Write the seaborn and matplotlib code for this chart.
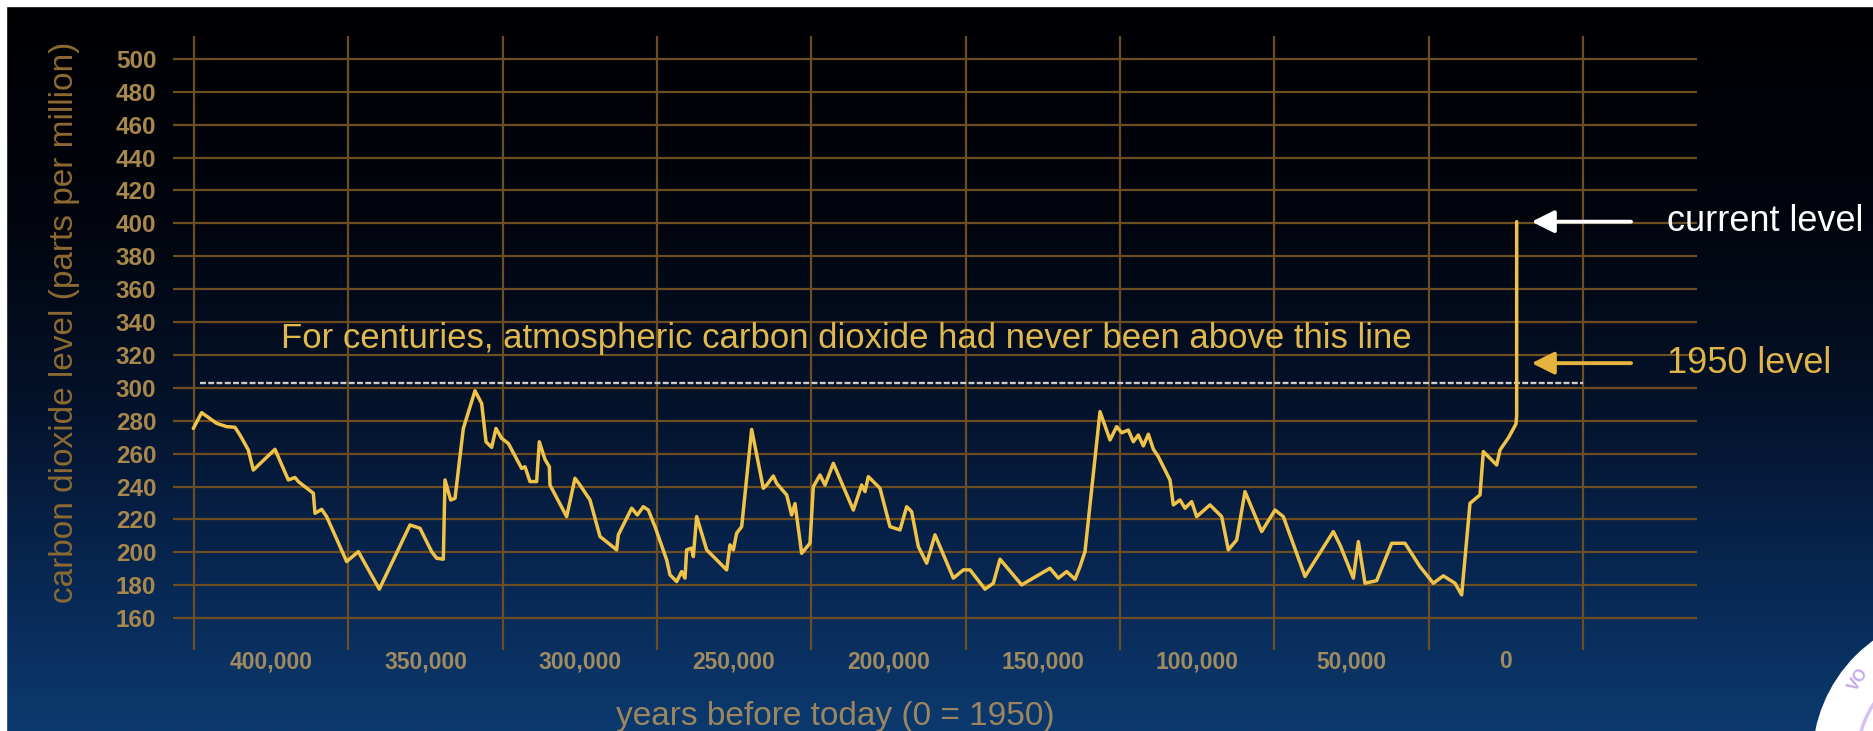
import numpy as np
import pandas as pd
import matplotlib
matplotlib.use("Agg")
import matplotlib.pyplot as plt
import seaborn as sns
from matplotlib.patches import Circle, Rectangle

# ---------------- data ----------------
years = [
    425216, 422516, 417656, 414416, 411716, 410096, 407396, 405776, 398756, 394436,
    392276, 391196, 386336, 385796, 383636, 382016, 375536, 371756, 364952, 355016,
    351776, 347996, 346376, 344216, 343676, 341840, 340436, 337736, 333956, 331796,
    330392, 328556, 327152, 325316, 323156, 318836, 317756, 316136, 313976, 313112,
    311276, 309872, 309656, 304256, 301556, 299936, 296696, 293456, 288056, 287516,
    283196, 281360, 279416, 277796, 275636, 271856, 270776, 268616, 266996, 265916,
    265376, 263756, 263216, 262136, 258896, 252416, 251336, 250256, 249176, 247556,
    244316, 240536, 239456, 237296, 236216, 232976, 231356, 230276, 228116, 225416,
    224336, 222176, 220556, 217856, 211376, 208676, 207596, 206516, 202736, 199496,
    196256, 194096, 192476, 190316, 187616, 184916, 178976, 175736, 173576, 168716,
    166016, 163856, 156836, 147656, 144956, 142256, 139556, 137936, 136316, 131456,
    128216, 126056, 124436, 122276, 120656, 119036, 117416, 115796, 114176, 112556,
    108776, 107696, 105536, 103916, 101756, 100136, 95816, 92036, 89876, 87176,
    84476, 79076, 74756, 72056, 65036, 55856, 53696, 49376, 47756, 45596,
    41816, 36956, 32636, 27776, 23456, 20216, 16436, 14276, 11576, 8336,
    7256, 2936, 1856, -1000, -3300, -3544, -3544,
]
co2_ppm = [
    275.3, 284.9, 278.4, 276.4, 276.0, 271.3, 262.2, 250.0, 262.6, 244.0,
    245.5, 243.0, 235.9, 223.7, 226.1, 221.7, 194.4, 200.4, 177.6, 216.6,
    214.6, 200.4, 196.4, 195.8, 244.0, 231.8, 232.8, 275.3, 298.2, 290.5,
    267.2, 263.8, 275.3, 269.3, 266.2, 251.0, 252.0, 243.0, 243.0, 267.2,
    256.5, 252.0, 240.9, 221.7, 245.0, 240.9, 231.8, 209.6, 201.5, 210.6,
    226.8, 222.7, 227.7, 225.7, 215.6, 195.4, 186.3, 182.2, 188.3, 184.3,
    201.5, 202.5, 197.4, 221.7, 201.5, 189.3, 204.5, 201.5, 211.6, 215.6,
    274.7, 238.9, 240.9, 246.4, 241.9, 234.9, 222.7, 229.6, 199.4, 205.5,
    239.9, 247.0, 240.9, 254.1, 225.7, 240.9, 236.9, 246.0, 238.9, 215.6,
    213.6, 227.7, 224.7, 203.5, 193.4, 210.6, 184.3, 189.3, 189.3, 177.6,
    181.2, 195.8, 180.2, 190.3, 184.3, 188.3, 183.6, 191.3, 200.4, 285.5,
    268.3, 276.4, 272.7, 274.3, 267.2, 271.3, 264.7, 271.8, 262.7, 258.1,
    244.0, 228.8, 231.8, 226.8, 230.8, 221.7, 228.8, 221.7, 201.5, 207.5,
    236.9, 212.6, 225.7, 221.7, 185.3, 212.6, 204.5, 184.3, 206.5, 181.2,
    182.8, 205.5, 205.5, 191.3, 181.2, 185.7, 181.2, 174.1, 229.8, 234.9,
    261.2, 253.1, 262.2, 270.0, 278.0, 283.0, 401.0,
]

y_ticks = list(range(160, 501, 20))
x_ticks = [400000, 350000, 300000, 250000, 200000, 150000, 100000, 50000, 0]
x_tick_labels = ["400,000", "350,000", "300,000", "250,000", "200,000",
                 "150,000", "100,000", "50,000", "0"]

never_above_level = 303      # dashed reference line
level_1950 = 315             # yellow arrow
level_current = 401          # white arrow

title_y = "carbon dioxide level (parts per million)"
title_x = "years before today (0 = 1950)"
note = "For centuries, atmospheric carbon dioxide had never been above this line"
label_current = "current level"
label_1950 = "1950 level"

# ---------------- styling ----------------
W, H = 1874, 731
sns.set_theme(style="dark")
plt.rcParams["font.family"] = ["Liberation Sans", "DejaVu Sans"]

GRID = "#6c4e22"
LINE = "#f0c348"
TICK_Y = "#a8874c"
TICK_X = "#a08a60"
GOLD_TXT = "#e0b84e"

fig = plt.figure(figsize=(W / 100, H / 100), dpi=100)

# background gradient (full figure)
bg = fig.add_axes([0, 0, 1, 1], zorder=0)
bg.set_axis_off()
stops_pos = np.array([0.0, 0.30, 0.55, 0.80, 1.0])
stops_col = np.array([[0, 0, 3], [2, 5, 14], [4, 18, 42], [8, 40, 84], [12, 58, 110]]) / 255.0
t = np.linspace(0, 1, 400)
grad = np.stack([np.interp(t, stops_pos, stops_col[:, k]) for k in range(3)], axis=-1)
grad = np.repeat(grad[:, None, :], 2, axis=1)
bg.imshow(grad, aspect="auto", extent=[0, W, H, 0], interpolation="bilinear")
bg.set_xlim(0, W)
bg.set_ylim(H, 0)
# white frame strips at top / left
bg.add_patch(Rectangle((0, 0), W, 6, color="white", zorder=2))
bg.add_patch(Rectangle((0, 0), 6, H, color="white", zorder=2))
# partial badge at bottom-right
bg.add_patch(Circle((1960, 760), 147, color="white", zorder=3))
bg.add_patch(Circle((1960, 760), 103, fill=False, ec="#d6c2f2", lw=2.5, zorder=4))
bg.text(1858, 679, "VO", rotation=58, color="#c4a6e6", fontsize=12,
        ha="center", va="center", zorder=5, fontweight="bold")

# main axes
ax = fig.add_axes([173 / W, 1 - 650 / H, (1697 - 173) / W, (650 - 36) / H], zorder=1)
ax.patch.set_alpha(0)

df = pd.DataFrame({"years": years, "co2": co2_ppm})
sns.lineplot(data=df, x="years", y="co2", ax=ax, color=LINE, linewidth=2.5,
             sort=False, estimator=None, zorder=5)

ax.set_xlim(431800, -61970)
ax.set_ylim(140.6, 513.9)

ax.set_yticks(y_ticks)
ax.set_yticklabels([str(v) for v in y_ticks])
ax.set_xticks(x_ticks)
ax.set_xticklabels(x_tick_labels)
vlines = [x_ticks[0] + 25000] + [v - 25000 for v in x_ticks]
ax.set_xticks(vlines, minor=True)

ax.grid(False)
ax.yaxis.grid(True, which="major", color=GRID, lw=1.6)
ax.xaxis.grid(True, which="minor", color=GRID, lw=1.6)
ax.tick_params(axis="both", which="both", length=0)
ax.tick_params(axis="y", pad=12, labelsize=17.5, labelcolor=TICK_Y)
ax.tick_params(axis="x", pad=0, labelsize=16.5, labelcolor=TICK_X)
for lab in ax.get_yticklabels() + ax.get_xticklabels():
    lab.set_fontweight("bold")
for s in ax.spines.values():
    s.set_visible(False)
ax.set_xlabel("")
ax.set_ylabel("")

# dashed "never above" line
ax.hlines(never_above_level, 423000, -25000, colors="#cdcdcd",
          linestyles=(0, (2.5, 1.0)), lw=1.7, zorder=4)

ax.text(213750, 330, note, ha="center", va="center", fontsize=25, color=GOLD_TXT)

# arrows & labels
ax.annotate("", xy=(-8400, level_current), xytext=(-40600, level_current),
            arrowprops=dict(arrowstyle="-|>", color="white", lw=2.8,
                            mutation_scale=34, shrinkA=0, shrinkB=0),
            annotation_clip=False)
ax.annotate("", xy=(-8400, level_1950), xytext=(-40600, level_1950),
            arrowprops=dict(arrowstyle="-|>", color="#e6b43e", lw=2.8,
                            mutation_scale=34, shrinkA=0, shrinkB=0),
            annotation_clip=False)
ax.text(-52250, level_current, label_current, ha="left", va="center",
        fontsize=26, color="white", clip_on=False)
ax.text(-52250, level_1950, label_1950, ha="left", va="center",
        fontsize=26, color="#e0b448", clip_on=False)

# axis titles
fig.text(65 / W, 1 - 322 / H, title_y, rotation=90, ha="center", va="center",
         fontsize=24, color="#8d6a32")
fig.text(835 / W, 1 - 717 / H, title_x, ha="center", va="center",
         fontsize=24, color="#9c8660")

fig.savefig("out.png", dpi=100)
